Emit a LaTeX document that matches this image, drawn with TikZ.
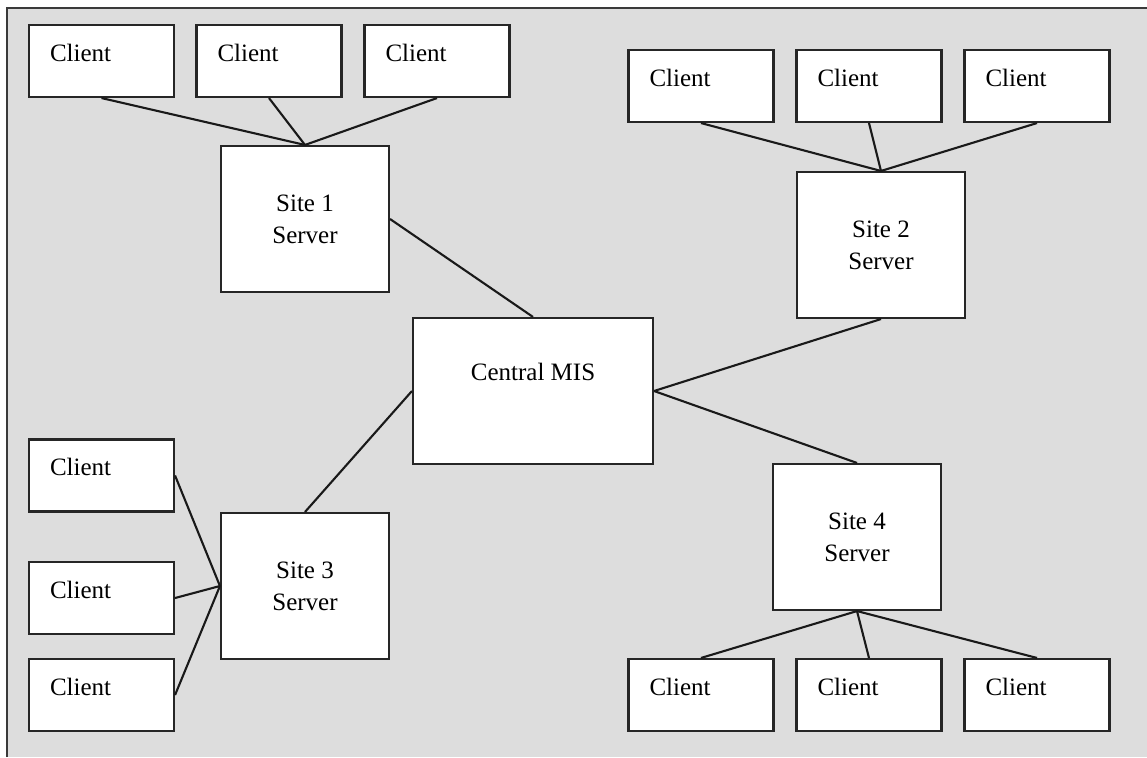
\documentclass[tikz,border=0pt]{standalone}
\usepackage{fontspec}
\setmainfont{Liberation Serif}
\definecolor{panel}{HTML}{DDDDDD}
\definecolor{frame}{HTML}{3A3A3A}
\begin{document}
\begin{tikzpicture}[x=.5pt,y=-.5pt,
  every node/.style={font=\fontsize{12.5}{16}\selectfont},
  box/.style={draw=black!85,line width=1.05pt,fill=white,inner sep=0pt},
  client/.style={box,align=left,inner xsep=10.5pt,text width=51.5pt,
    text height=18pt,text depth=18pt},
  server/.style={box,align=center,minimum width=84pt,minimum height=73pt},
  link/.style={line width=1.05pt,black!90}]
\useasboundingbox (0,0) rectangle (1147,757);
\fill[panel] (7,8) rectangle (1147,757);
\draw[frame,line width=.8pt] (7,757) -- (7,8) -- (1147,8);
% servers
\node[server] (mis) at (533,391) [text height=31pt,text depth=42pt,
  minimum width=120pt,minimum height=73pt] {Central MIS};
\node[server] (s1) at (305,219) {Site 1\\Server};
\node[server] (s2) at (881,245) {Site 2\\Server};
\node[server] (s3) at (305,586) {Site 3\\Server};
\node[server] (s4) at (857,537) {Site 4\\Server};
% clients
\node[client] (c11) at (101.5,61) {Client};
\node[client] (c12) at (269,61) {Client};
\node[client] (c13) at (437,61) {Client};
\node[client] (c21) at (701,86) {Client};
\node[client] (c22) at (869,86) {Client};
\node[client] (c23) at (1037,86) {Client};
\node[client] (c31) at (101.5,475.5) {Client};
\node[client] (c32) at (101.5,598) {Client};
\node[client] (c33) at (101.5,695) {Client};
\node[client] (c41) at (701,695) {Client};
\node[client] (c42) at (869,695) {Client};
\node[client] (c43) at (1037,695) {Client};
% links
\foreach \c in {c11,c12,c13} \draw[link] (\c.south) -- (s1.north);
\foreach \c in {c21,c22,c23} \draw[link] (\c.south) -- (s2.north);
\foreach \c in {c31,c32,c33} \draw[link] (\c.east) -- (s3.west);
\foreach \c in {c41,c42,c43} \draw[link] (\c.north) -- (s4.south);
\draw[link] (s1.east) -- (mis.north);
\draw[link] (mis.west) -- (s3.north);
\draw[link] (mis.east) -- (s2.south);
\draw[link] (mis.east) -- (s4.north);
\end{tikzpicture}
\end{document}
